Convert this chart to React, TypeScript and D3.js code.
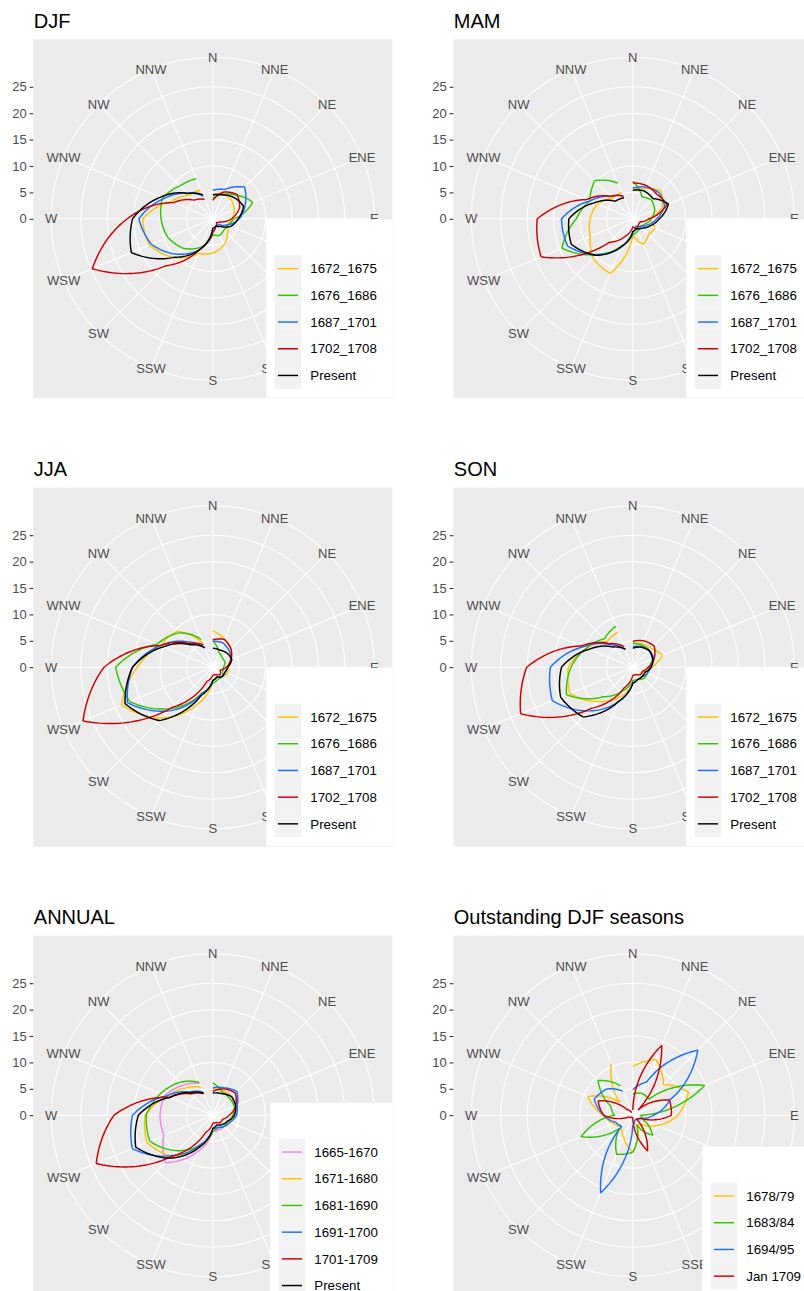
import React, { useEffect, useRef } from "react";
import * as d3 from "d3";

// compass sectors, clockwise from north
const directions = ["N", "NNE", "NE", "ENE", "E", "ESE", "SE", "SSE", "S", "SSW", "SW", "WSW", "W", "WNW", "NW", "NNW"];
const radialBreaks = [0, 5, 10, 15, 20, 25];
const radialMax = 27.2;

const seasonLabels = ["1672_1675", "1676_1686", "1687_1701", "1702_1708", "Present"];
const seasonColours = ["#ffc000", "#33c400", "#1a6eff", "#cd0000", "#000000"];
const annualLabels = ["1665-1670", "1671-1680", "1681-1690", "1691-1700", "1701-1709", "Present"];
const annualColours = ["#ee82ee", "#ffc000", "#33c400", "#1a6eff", "#cd0000", "#000000"];
const outstandingLabels = ["1678/79", "1683/84", "1694/95", "Jan 1709"];
const outstandingColours = ["#ffc000", "#33c400", "#1a6eff", "#cd0000"];

// frequencies (%) per sector, N .. NNW
const djf1672 = [4.7, 5.1, 5.0, 4.4, 3.7, 3.0, 3.9, 5.4, 6.5, 7.1, 10.4, 13.0, 13.3, 8.5, 6.3, 5.9];
const djf1676 = [3.9, 5.0, 6.3, 8.2, 4.0, 3.0, 3.0, 3.4, 3.0, 5.8, 7.9, 9.2, 9.8, 10.3, 8.8, 8.2];
const djf1687 = [5.4, 6.0, 8.5, 6.6, 5.0, 3.0, 1.5, 1.5, 2.5, 6.2, 9.5, 12.6, 14.0, 10.0, 6.8, 4.6];
const djf1702 = [3.5, 5.5, 6.5, 5.5, 3.5, 1.5, 1.0, 1.5, 2.5, 6.1, 12.6, 24.7, 16.2, 8.0, 5.0, 4.0];
const djfPresent = [4.5, 4.9, 5.7, 6.3, 4.8, 3.7, 2.0, 1.5, 1.8, 6.3, 10.3, 16.7, 15.2, 10.7, 6.8, 4.9];

const mam1672 = [5.5, 6.2, 7.5, 6.0, 3.0, 4.5, 4.2, 5.2, 3.0, 11.2, 10.6, 8.7, 8.1, 7.3, 5.5, 5.4];
const mam1676 = [7.1, 4.5, 5.0, 4.5, 3.5, 2.5, 2.0, 2.5, 3.0, 5.5, 9.5, 14.5, 10.7, 8.8, 10.2, 7.3];
const mam1687 = [5.8, 6.5, 7.0, 6.5, 4.5, 3.0, 2.0, 1.5, 2.5, 5.8, 9.6, 13.4, 13.5, 8.8, 6.0, 4.7];
const mam1702 = [6.8, 6.8, 6.5, 7.0, 3.0, 1.5, 1.5, 2.0, 1.5, 3.5, 6.3, 18.8, 18.1, 9.5, 6.0, 4.6];
const mamPresent = [5.4, 5.7, 5.4, 7.3, 5.0, 3.5, 2.5, 2.0, 2.4, 5.7, 9.8, 12.6, 12.1, 7.9, 4.7, 4.3];

const jja1672 = [6.9, 5.7, 4.8, 3.5, 3.0, 3.0, 2.5, 2.0, 2.5, 7.6, 13.6, 18.7, 14.3, 10.7, 9.6, 4.9];
const jja1676 = [5.0, 3.0, 2.5, 2.5, 2.0, 2.0, 2.5, 2.5, 3.0, 5.2, 11.0, 17.0, 18.4, 11.4, 9.2, 5.7];
const jja1687 = [4.9, 5.0, 4.4, 3.7, 2.8, 2.5, 2.5, 2.0, 2.5, 5.4, 11.7, 17.5, 15.2, 10.7, 6.8, 3.9];
const jja1702 = [5.2, 5.7, 4.9, 3.7, 2.5, 1.5, 2.0, 1.5, 1.5, 2.9, 10.7, 26.6, 20.6, 10.7, 6.3, 4.6];
const jjaPresent = [3.6, 3.5, 3.8, 3.9, 2.8, 2.5, 2.5, 2.0, 2.5, 5.8, 14.3, 18.0, 15.2, 10.1, 6.0, 4.0];

const son1672 = [4.5, 4.8, 5.0, 6.0, 3.5, 2.0, 2.5, 2.5, 3.0, 6.0, 9.2, 12.9, 12.2, 9.4, 6.9, 7.2];
const son1676 = [4.5, 4.5, 4.5, 4.0, 3.0, 3.0, 3.0, 2.5, 2.5, 4.8, 7.9, 13.6, 11.7, 9.5, 7.6, 8.4];
const son1687 = [3.9, 4.2, 4.5, 4.3, 3.3, 3.0, 2.5, 2.5, 3.0, 7.0, 11.7, 16.5, 15.6, 10.1, 6.0, 3.6];
const son1702 = [4.9, 5.4, 5.7, 4.4, 2.9, 2.0, 2.0, 1.5, 1.5, 4.2, 11.0, 23.0, 20.1, 10.5, 6.3, 4.2];
const sonPresent = [3.6, 4.1, 4.4, 4.1, 3.5, 2.5, 2.5, 2.5, 3.0, 7.0, 13.3, 14.8, 13.5, 8.9, 5.4, 3.7];

const ann1665 = [5.0, 5.0, 5.0, 4.5, 4.0, 3.5, 3.0, 3.0, 3.0, 7.4, 12.7, 10.0, 10.0, 9.8, 8.0, 6.5];
const ann1671 = [5.0, 5.0, 5.0, 4.5, 4.0, 3.5, 3.0, 2.5, 3.0, 6.5, 11.0, 13.5, 12.8, 9.3, 7.3, 5.7];
const ann1681 = [6.1, 4.7, 4.5, 4.4, 3.8, 3.0, 3.0, 2.5, 3.0, 6.0, 9.5, 12.9, 12.6, 10.7, 8.8, 6.7];
const ann1691 = [5.2, 5.6, 6.4, 5.0, 4.5, 3.5, 3.0, 2.5, 2.5, 6.0, 10.8, 16.5, 15.2, 9.5, 6.2, 4.7];
const ann1701 = [4.5, 5.4, 6.0, 4.7, 3.1, 2.0, 2.0, 1.5, 1.5, 3.5, 11.0, 23.9, 18.7, 8.8, 5.7, 4.4];
const annPresent = [4.2, 4.4, 5.0, 4.7, 4.1, 3.0, 2.5, 2.0, 2.5, 6.5, 11.5, 15.8, 14.1, 8.8, 6.0, 4.5];

const djf1678 = [9.2, 11.4, 8.2, 11.4, 8.5, 5.0, 2.5, 2.0, 7.0, 4.5, 3.0, 4.0, 5.6, 9.2, 3.5, 10.6];
const djf1683 = [4.0, 4.5, 4.3, 14.7, 1.5, 2.0, 5.3, 2.0, 7.0, 8.0, 3.5, 10.6, 3.5, 4.5, 9.3, 6.0];
const djf1694 = [4.8, 6.8, 17.4, 7.6, 3.9, 1.5, 1.0, 1.0, 2.0, 15.9, 3.0, 3.5, 5.5, 7.9, 7.0, 4.9];
const jan1709 = [1.0, 14.3, 1.5, 7.5, 7.3, 1.5, 1.0, 7.3, 0.5, 0.5, 0.5, 1.0, 5.5, 7.1, 1.5, 0.5];

const FONT = "'Liberation Sans', Arial, sans-serif";
const SIZE = 359;
const colX = [33.3, 453.3];
const rowY = [39.3, 487.7, 935.7];

const panels = [
  { title: "DJF", col: 0, row: 0, labels: seasonLabels, colours: seasonColours, series: [djf1672, djf1676, djf1687, djf1702, djfPresent], legendTop: 180, legendWidth: 126 },
  { title: "MAM", col: 1, row: 0, labels: seasonLabels, colours: seasonColours, series: [mam1672, mam1676, mam1687, mam1702, mamPresent], legendTop: 180, legendWidth: 126 },
  { title: "JJA", col: 0, row: 1, labels: seasonLabels, colours: seasonColours, series: [jja1672, jja1676, jja1687, jja1702, jjaPresent], legendTop: 180, legendWidth: 126 },
  { title: "SON", col: 1, row: 1, labels: seasonLabels, colours: seasonColours, series: [son1672, son1676, son1687, son1702, sonPresent], legendTop: 180, legendWidth: 126 },
  { title: "ANNUAL", col: 0, row: 2, labels: annualLabels, colours: annualColours, series: [ann1665, ann1671, ann1681, ann1691, ann1701, annPresent], legendTop: 167, legendWidth: 122 },
  { title: "Outstanding DJF seasons", col: 1, row: 2, labels: outstandingLabels, colours: outstandingColours, series: [djf1678, djf1683, djf1694, jan1709], legendTop: 211, legendWidth: 110 },
];

// coord_polar style path: straight in (theta, r) space, so spirals between sectors
const polarPath = (values, theta, r) => {
  const pts = [];
  const steps = 24;
  for (let i = 0; i < values.length - 1; i++) {
    for (let s = 0; s < steps; s++) {
      const t = s / steps;
      pts.push([theta(i + t), r(values[i] + (values[i + 1] - values[i]) * t)]);
    }
  }
  pts.push([theta(values.length - 1), r(values[values.length - 1])]);
  return d3.lineRadial().angle(d => d[0]).radius(d => d[1])(pts);
};

const drawPanel = (svg, p) => {
  const x0 = colX[p.col], y0 = rowY[p.row];
  const cx = x0 + SIZE / 2, cy = y0 + SIZE / 2;
  const outer = 0.45 * SIZE;
  const r = d3.scaleLinear([0, radialMax], [0, 0.4 * SIZE]);
  const theta = d3.scaleLinear([0, directions.length], [0, 2 * Math.PI]);
  const keySize = 26.7;
  const lx = x0 + SIZE - p.legendWidth, ly = y0 + p.legendTop;
  const g = svg.append("g");

  g.append("text")
    .attr("x", x0 + 0.5).attr("y", y0 - 11.5)
    .attr("font-family", FONT).attr("font-size", 20).attr("fill", "#000")
    .text(p.title);

  g.append("rect")
    .attr("x", x0).attr("y", y0).attr("width", SIZE).attr("height", SIZE)
    .attr("fill", "#ebebeb");

  const plot = g.append("g").attr("transform", `translate(${cx},${cy})`);

  plot.selectAll("line.spoke").data(directions).join("line")
    .attr("class", "spoke")
    .attr("x1", 0).attr("y1", 0)
    .attr("x2", (d, i) => outer * Math.sin(theta(i)))
    .attr("y2", (d, i) => -outer * Math.cos(theta(i)))
    .attr("stroke", "#fff").attr("stroke-width", 1.1);

  plot.selectAll("circle.ring").data([...radialBreaks.filter(v => v > 0).map(v => r(v)), outer]).join("circle")
    .attr("class", "ring")
    .attr("r", d => d)
    .attr("fill", "none").attr("stroke", "#fff").attr("stroke-width", 1.1);

  p.series.forEach((values, k) => {
    plot.append("path")
      .attr("d", polarPath(values, theta, r))
      .attr("fill", "none")
      .attr("stroke", p.colours[k])
      .attr("stroke-width", 1.45)
      .attr("stroke-linejoin", "round");
  });

  // direction labels; the ones lying wholly under the legend box are not drawn
  const labelPos = directions.map((d, i) => ({
    name: d,
    x: outer * Math.sin(theta(i)),
    y: -outer * Math.cos(theta(i)),
  }));
  const hidden = l => {
    const hw = l.name.length * 4.6, hh = 5;
    return cx + l.x - hw > lx && cy + l.y - hh > ly;
  };
  plot.selectAll("text.dir").data(labelPos.filter(l => !hidden(l))).join("text")
    .attr("class", "dir")
    .attr("x", l => l.x)
    .attr("y", l => l.y)
    .attr("dy", "0.35em")
    .attr("text-anchor", "middle")
    .attr("font-family", FONT).attr("font-size", 13).attr("fill", "#4d4d4d")
    .text(l => l.name);

  // radial axis on the left of the panel
  const yScale = d3.scaleLinear([0, radialMax], [cy, cy - 0.4 * SIZE]);
  const ax = g.append("g")
    .attr("transform", `translate(${x0},0)`)
    .call(d3.axisLeft(yScale).tickValues(radialBreaks).tickSize(3.7).tickPadding(2.9));
  ax.attr("font-family", FONT).attr("font-size", 13);
  ax.select(".domain").remove();
  ax.selectAll("line").attr("stroke", "#333").attr("stroke-width", 1.1);
  ax.selectAll("text").attr("fill", "#4d4d4d");

  // legend, inside the panel at the bottom right
  const legend = g.append("g");
  legend.append("rect")
    .attr("x", lx).attr("y", ly).attr("width", p.legendWidth)
    .attr("height", 36 + p.labels.length * keySize + 9)
    .attr("fill", "#fff");
  const keys = legend.selectAll("g.key").data(p.labels).join("g")
    .attr("class", "key")
    .attr("transform", (d, i) => `translate(${lx + 8.3},${ly + 36 + i * keySize})`);
  keys.append("rect").attr("width", keySize).attr("height", keySize).attr("fill", "#f2f2f2");
  keys.append("line")
    .attr("x1", 3.3).attr("x2", keySize - 3.3)
    .attr("y1", keySize / 2).attr("y2", keySize / 2)
    .attr("stroke", (d, i) => p.colours[i]).attr("stroke-width", 1.45);
  keys.append("text")
    .attr("x", keySize + 9).attr("y", keySize / 2).attr("dy", "0.35em")
    .attr("font-family", FONT).attr("font-size", 13.3).attr("fill", "#000")
    .text(d => d);
};

const App = () => {
  const ref = useRef(null);

  useEffect(() => {
    const svg = d3.select(ref.current);
    svg.selectAll("*").remove();
    svg.append("rect").attr("width", 804).attr("height", 1291).attr("fill", "#fff");
    panels.forEach(p => drawPanel(svg, p));
  }, []);

  return (
    <svg
      ref={ref}
      width={804}
      height={1291}
      style={{ position: "absolute", left: 0, top: 0, display: "block" }}
    />
  );
};

export default App;
